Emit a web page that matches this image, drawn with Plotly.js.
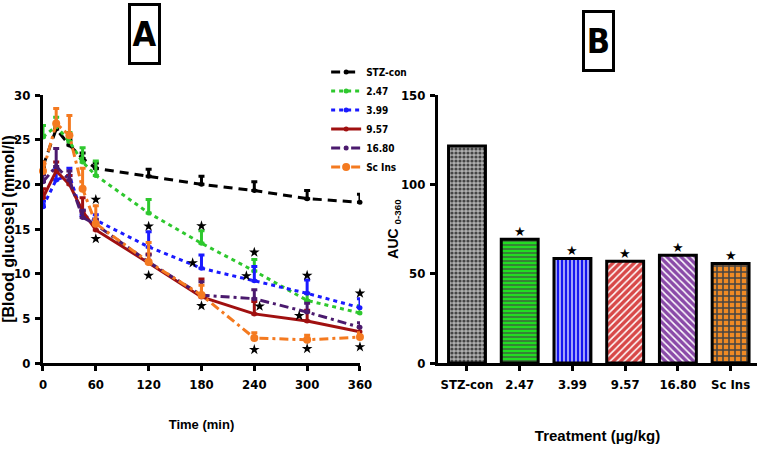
<!DOCTYPE html>
<html>
<head>
<meta charset="utf-8">
<script src="https://cdn.plot.ly/plotly-3.0.1.min.js"></script>
<style>html,body{margin:0;padding:0;background:#fff;} #chart{width:762px;height:449px;}</style>
</head>
<body>
<div id="chart"></div>
<script>
// ---- Panel A data ----
const timeMin = [0, 15, 30, 45, 60, 120, 180, 240, 300, 360];
const stzCon   = [22.0, 26.2, 24.4, 22.9, 21.8, 20.9, 20.0, 19.3, 18.4, 18.0];
const stzConErr= [0.5, 0.6, 0.6, 0.6, 0.6, 0.8, 0.9, 1.0, 0.9, 0.9];
const d247     = [25.3, 26.5, 24.8, 22.5, 21.0, 16.8, 13.4, 10.3, 7.0, 5.6];
const d247Err  = [1.3, 1.0, 1.0, 1.6, 1.6, 1.5, 1.4, 1.3, 0.8, 0.8];
const d399     = [17.5, 20.5, 21.0, 16.5, 16.0, 13.0, 10.6, 9.2, 7.8, 6.2];
const d399Err  = [0.6, 1.3, 0.8, 0.6, 0.6, 1.7, 1.5, 1.6, 1.5, 1.0];
const d957     = [18.5, 21.5, 20.0, 17.0, 14.9, 11.2, 7.4, 5.5, 4.7, 3.5];
const d957Err  = [1.0, 1.0, 1.0, 1.5, 0.8, 1.0, 2.0, 1.4, 1.2, 0.5];
const d1680    = [20.3, 22.0, 20.5, 16.3, 15.5, 11.3, 7.6, 7.2, 5.7, 4.0];
const d1680Err = [0.8, 2.0, 1.0, 0.8, 0.6, 0.8, 1.5, 1.0, 1.0, 0.5];
const scIns    = [21.5, 26.8, 25.5, 19.5, 15.6, 11.3, 7.6, 2.8, 2.6, 2.9];
const scInsErr = [1.0, 1.7, 2.2, 2.3, 2.0, 2.2, 1.1, 0.6, 0.5, 0.5];
// significance stars in panel A
const starTime = [60, 60, 120, 120, 180, 170, 180, 240, 231, 246, 240, 300, 291, 300, 360, 360];
const starLevel= [18.3, 13.9, 15.3, 9.8, 15.35, 11.2, 6.4, 12.4, 9.75, 6.35, 1.5, 9.8, 5.3, 1.6, 7.8, 1.8];

// ---- Panel B data ----
const treatments = ['STZ-con', '2.47', '3.99', '9.57', '16.80', 'Sc Ins'];
const auc = [121.4, 69.3, 58.5, 57.0, 60.3, 55.7];
const starredTreatments = ['2.47', '3.99', '9.57', '16.80', 'Sc Ins'];
const starredAuc = [69.3, 58.5, 57.0, 60.3, 55.7];

const tickFamily = 'Liberation Sans Narrow, DejaVu Sans Condensed, Arial Narrow, sans-serif';
const titleFamily = 'Liberation Sans, Arial, sans-serif';

function series(name, y, err, color, dash, width, msym, msize) {
  return {
    type: 'scatter', mode: 'lines+markers', name: name,
    x: timeMin, y: y, xaxis: 'x', yaxis: 'y',
    line: {color: color, dash: dash, width: width},
    marker: {color: color, symbol: msym, size: msize},
    error_y: {type: 'data', array: err, arrayminus: err.map(() => 0), symmetric: false,
              color: color, thickness: 3, width: 3},
    cliponaxis: false
  };
}

const traces = [
  series('STZ-con', stzCon, stzConErr, '#000000', '9px,6px', 3, 'circle', 5),
  series('2.47', d247, d247Err, '#2ec82e', '4px,4px', 3, 'circle', 5),
  series('3.99', d399, d399Err, '#1a1aff', '4px,4px', 3, 'circle', 5),
  series('9.57', d957, d957Err, '#a01010', 'solid', 3, 'circle', 5),
  series('16.80', d1680, d1680Err, '#4b1a6e', '9px,4px,3px,4px', 3, 'circle', 5),
  series('Sc Ins', scIns, scInsErr, '#f47a20', '9px,4px,3px,4px', 3, 'circle', 8),
  {
    type: 'scatter', mode: 'markers', x: starTime, y: starLevel, xaxis: 'x', yaxis: 'y',
    marker: {symbol: 'star', size: 8, color: '#000'}, showlegend: false, hoverinfo: 'skip', cliponaxis: false
  },
  {
    type: 'bar', x: treatments, y: auc, xaxis: 'x2', yaxis: 'y2', showlegend: false,
    width: 0.7, cliponaxis: false,
    marker: {
      color: ['#b0b0b0', '#22dd22', '#1515f0', '#d84848', '#8a4aa8', '#f08a24'],
      line: {color: '#000', width: 3},
      pattern: {
        shape: ['.', '-', '|', '/', '\\', '+'],
        fgcolor: ['#2a2a2a', '#b0f7b0', '#8c8cff', '#ffcaca', '#e4d0f2', '#ffffff'],
        fgopacity: 1,
        size: [4, 4, 4, 5, 5, 6],
        solidity: [0.5, 0.3, 0.3, 0.3, 0.3, 0.45],
        fillmode: 'overlay'
      }
    }
  },
  {
    type: 'scatter', mode: 'text', x: starredTreatments, y: starredAuc, xaxis: 'x2', yaxis: 'y2',
    text: starredTreatments.map(() => '★'), textposition: 'top center',
    textfont: {size: 13, color: '#000'}, showlegend: false, hoverinfo: 'skip', cliponaxis: false
  }
];

const axisCommon = {
  showline: true, linecolor: '#000', linewidth: 3, mirror: false,
  ticks: 'outside', ticklen: 5, tickwidth: 3, tickcolor: '#000',
  showgrid: false, zeroline: false,
  tickfont: {family: tickFamily, size: 13, color: '#000', weight: 'bold'}
};

const layout = {
  width: 762, height: 449,
  margin: {l: 0, r: 0, t: 0, b: 0},
  paper_bgcolor: '#fff', plot_bgcolor: '#fff',
  showlegend: true,
  legend: {
    x: 0.428, y: 0.872, xanchor: 'left', yanchor: 'top',
    font: {family: tickFamily, size: 10, color: '#000', weight: 'bold'},
    itemwidth: 30, tracegroupgap: 0, bgcolor: 'rgba(0,0,0,0)'
  },
  xaxis: Object.assign({}, axisCommon, {
    domain: [0.0564, 0.4724], range: [0, 360], tickvals: [0, 60, 120, 180, 240, 300, 360],
    anchor: 'y', ticklabelstandoff: 2,
    title: {text: 'Time (min)', font: {family: titleFamily, size: 13, color: '#000', weight: 'bold'}, standoff: 30}
  }),
  yaxis: Object.assign({}, axisCommon, {
    domain: [0.1915, 0.7884], range: [0, 30], tickvals: [0, 5, 10, 15, 20, 25, 30],
    anchor: 'x', ticklabelstandoff: 2,
    title: {text: '[Blood glucose] (mmol/l)', font: {family: titleFamily, size: 16, color: '#000', weight: 'bold'}, standoff: 12}
  }),
  xaxis2: Object.assign({}, axisCommon, {
    domain: [0.5748, 0.9934], range: [-0.55, 5.5], type: 'category',
    anchor: 'y2', ticklabelstandoff: 2,
    title: {text: 'Treatment (µg/kg)', font: {family: titleFamily, size: 15, color: '#000', weight: 'bold'}, standoff: 40}
  }),
  yaxis2: Object.assign({}, axisCommon, {
    domain: [0.1915, 0.7884], range: [0, 150], tickvals: [0, 50, 100, 150],
    anchor: 'x2', ticklabelstandoff: 2,
    title: {text: 'AUC <sub>0-360</sub>', font: {family: titleFamily, size: 14, color: '#000', weight: 'bold'}, standoff: 0}
  }),
  annotations: [
    {text: 'A', xref: 'paper', yref: 'paper', x: 144/762, y: 1 - 34/449, xanchor: 'center', yanchor: 'middle',
     showarrow: false, font: {family: tickFamily, size: 34, color: '#000', weight: 'bold'},
     bordercolor: '#000', borderwidth: 3, borderpad: 0, width: 27, height: 56},
    {text: 'B', xref: 'paper', yref: 'paper', x: 598/762, y: 1 - 41/449, xanchor: 'center', yanchor: 'middle',
     showarrow: false, font: {family: tickFamily, size: 34, color: '#000', weight: 'bold'},
     bordercolor: '#000', borderwidth: 3, borderpad: 0, width: 27, height: 56}
  ]
};

Plotly.newPlot('chart', traces, layout, {displayModeBar: false, staticPlot: true});
</script>
</body>
</html>
